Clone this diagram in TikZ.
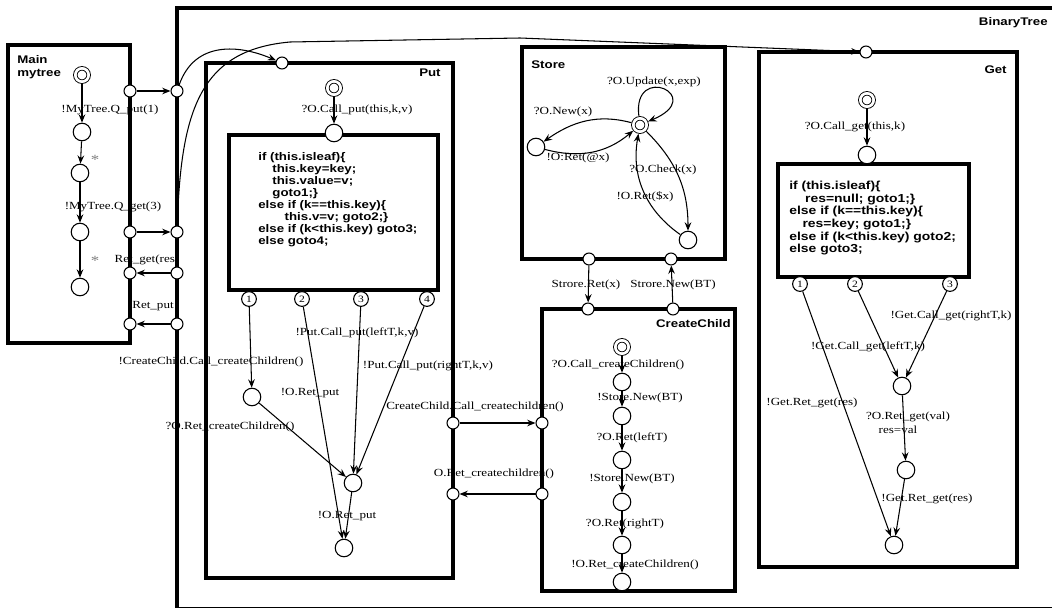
\documentclass[tikz,border=0pt]{standalone}
\usepackage{fontspec}
\setmainfont{Liberation Serif}[FakeStretch=1.2]
\setsansfont{Liberation Sans}[FakeStretch=1.2]
\usetikzlibrary{arrows.meta}

\begin{document}
\begin{tikzpicture}[
    x=0.02cm, y=-0.02cm,
    frame/.style={draw, line width=1.9pt},
    state/.style={circle, draw, line width=0.6pt, fill=white, minimum size=10pt, inner sep=0pt},
    init/.style={circle, draw, line width=0.5pt, double, double distance=1.5pt, minimum size=7.6pt, inner sep=0pt, outer sep=1.25pt},
    port/.style={circle, draw, line width=0.6pt, fill=white, minimum size=6.8pt, inner sep=0pt},
    branch/.style={port, minimum size=8.4pt, font=\fontsize{5.5}{6}\selectfont},
    trans/.style={-{Stealth[length=4.8pt, width=3.8pt, inset=1.7pt]}, line width=0.6pt},
    lab/.style={inner sep=0pt, font=\fontsize{6.2}{7}\selectfont},
    title/.style={inner sep=0pt, font=\fontsize{6.3}{7.4}\selectfont\sffamily\bfseries},
    code/.style={inner sep=0pt, align=left, anchor=north west, font=\fontsize{6.3}{5.1}\selectfont\sffamily\bfseries},
]
\useasboundingbox (0,0) rectangle (1052,608);

% boxes
\draw[frame] (177,8) rectangle (1080,608.5);
\draw[frame] (8,45) rectangle (130,343);
\draw[frame] (206,63) rectangle (453,578);
\draw[frame] (229,135) rectangle (438,290);
\draw[frame] (522,47) rectangle (725,259);
\draw[frame] (542,309) rectangle (735,591);
\draw[frame] (759,52) rectangle (1017,567);
\draw[frame] (778,164) rectangle (969,277);

\node[title, anchor=east] (tbt) at (1048,23) {BinaryTree};
\node[title, anchor=north west, align=left] (tmain) at (17,55) {Main\\mytree};
\node[title, anchor=east] (tput) at (441,73) {Put};
\node[title, anchor=west] (tstore) at (531,65) {Store};
\node[title, anchor=east] (tcc) at (731,324) {CreateChild};
\node[title, anchor=east] (tget) at (1007,70) {Get};

% Main
\node[init] (m0) at (82,75) {};
\node[state] (m1) at (82,132) {};
\node[state] (m2) at (80,173) {};
\node[state] (m3) at (80,232) {};
\node[state] (m4) at (80,287) {};
\foreach \a/\b in {m0/m1, m1/m2, m2/m3, m3/m4}
  \draw[trans] (\a) -- (\b);
\node[lab] (lq1) at (110,110) {!MyTree.Q\_put(1)};
\node[lab, gray, font=\fontsize{8}{8}\selectfont] (ls1) at (95,160) {*};
\node[lab] (lq2) at (113,207) {!MyTree.Q\_get(3)};
\node[lab, gray, font=\fontsize{8}{8}\selectfont] (ls2) at (95,261) {*};

\foreach \i/\y in {1/91, 2/232, 3/273, 4/324} {
  \node[port] (mp\i) at (130,\y) {};
  \node[port] (bp\i) at (177,\y) {};
}
\draw[trans] (mp1) -- (bp1);
\draw[trans] (mp2) -- (bp2);
\draw[trans] (bp3) -- (mp3);
\draw[trans] (bp4) -- (mp4);
\node[lab] (lrg) at (147,260) {Ret\_get(res)};
\node[lab] (lrp) at (153,306) {Ret\_put};

% Put
\node[port] (pt) at (282,63) {};
\node[init] (pi) at (334,88) {};
\node[state] (pc) at (334,133) {};
\draw[trans] (pi) -- (pc);
\node[lab] (lpi) at (357,110) {?O.Call\_put(this,k,v)};
\node[code] (pcode) at (258,152) {if (this.isleaf)\{\\
\hspace*{8pt}this.key=key;\\
\hspace*{8pt}this.value=v;\\
\hspace*{8pt}goto1;\}\\
else if (k==this.key)\{\\
\hspace*{15pt}this.v=v; goto2;\}\\
else if (k<this.key) goto3;\\
else goto4;};
\foreach \i/\x in {1/249, 2/302, 3/361, 4/427}
  \node[branch] (pn\i) at (\x,299) {\i};
\node[state] (pa) at (252,397) {};
\node[state] (pb) at (353,483) {};
\node[state] (pf) at (344,548) {};
\draw[trans] (pn1) -- (pa);
\draw[trans] (pa) -- (pb);
\draw[trans] (pn2) -- (pf);
\draw[trans] (pn3) -- (pb);
\draw[trans] (pn4) -- (pb);
\draw[trans] (pb) -- (pf);
\node[lab] (lp1) at (211,362) {!CreateChild.Call\_createChildren()};
\node[lab] (lp2) at (230,427) {?O.Ret\_createChildren()};
\node[lab] (lp3) at (310,393) {!O.Ret\_put};
\node[lab] (lp4) at (357,333) {!Put.Call\_put(leftT,k,v)};
\node[lab] (lp5) at (428,366) {!Put.Call\_put(rightT,k,v)};
\node[lab] (lp6) at (347,516) {!O.Ret\_put};

\draw[trans] (bp1) .. controls (195,40) and (240,45) .. (pt);

% Put <-> CreateChild
\node[port] (pr1) at (453,423) {};
\node[port] (pr2) at (453,494) {};
\node[port] (cl1) at (542,423) {};
\node[port] (cl2) at (542,494) {};
\draw[trans] (pr1) -- (cl1);
\draw[trans] (cl2) -- (pr2);
\node[lab] (lcc1) at (475,407) {CreateChild.Call\_createchildren()};
\node[lab] (lcc2) at (494,474) {O.Ret\_createchildren()};

% Store
\node[port] (sb1) at (589,259) {};
\node[port] (sb2) at (671,259) {};
\node[port] (ct1) at (588,309) {};
\node[port] (ct2) at (673,309) {};
\draw[trans] (sb1) -- (ct1);
\draw[trans] (ct2) -- (sb2);
\node[lab] (lsr) at (586,285) {Strore.Ret(x)};
\node[lab] (lsn) at (673,285) {Strore.New(BT)};

\node[init] (si) at (640,125) {};
\node[state] (sl) at (536,147) {};
\node[state] (sr) at (688,240) {};
\draw[trans] (si) to[out=165,in=35] (sl);
\draw[trans] (sl) to[out=-15,in=220] (si);
\draw[trans] (si) .. controls (632,62) and (708,96) .. (si);
\draw[trans] (si) to[out=-45,in=90] (sr);
\draw[trans] (sr) to[out=145,in=-100] (si);
\node[lab] (ls1) at (563,112) {?O.New(x)};
\node[lab] (ls2) at (578,158) {!O:Ret(@x)};
\node[lab] (ls3) at (654,82) {?O.Update(x,exp)};
\node[lab] (ls4) at (663,170) {?O.Check(x)};
\node[lab] (ls5) at (645,197) {!O.Ret(\$x)};

% CreateChild
\node[init] (c0) at (622,347) {};
\foreach \i/\y in {1/382, 2/416, 3/460, 4/502, 5/545, 6/582}
  \node[state] (c\i) at (622,\y) {};
\foreach \i/\j in {0/1, 1/2, 2/3, 3/4, 4/5, 5/6}
  \draw[trans] (c\i) -- (c\j);
\foreach \i/\x/\y/\t in {1/618/365/{?O.Call\_createChildren()}, 2/640/398/{!Store.New(BT)},
    3/632/438/{?O.Ret(leftT)}, 4/632/479/{!Store.New(BT)},
    5/625/524/{?O.Ret(rightT)}, 6/635/565/{!O.Ret\_createChildren()}}
  \node[lab] (lc\i) at (\x,\y) {\t};

% Get
\node[port] (gt) at (866,52) {};
\draw[trans] (bp2) .. controls (181,110) and (200,50) .. (290,42) -- (520,38) -- (gt);
\node[init] (gi) at (867,100) {};
\node[state] (gc) at (867,155) {};
\draw[trans] (gi) -- (gc);
\node[lab] (lgi) at (855,127) {?O.Call\_get(this,k)};
\node[code, font=\fontsize{6.6}{5.4}\selectfont\sffamily\bfseries] (gcode) at (789,181) {if (this.isleaf)\{\\
\hspace*{9pt}res=null; goto1;\}\\
else if (k==this.key)\{\\
\hspace*{7.5pt}res=key; goto1;\}\\
else if (k<this.key) goto2;\\
else goto3;};
\foreach \i/\x in {1/800, 2/855, 3/950}
  \node[branch] (gn\i) at (\x,284) {\i};
\node[state] (gd) at (902,386) {};
\node[state] (ge) at (906,470) {};
\node[state] (gf) at (894,545) {};
\draw[trans] (gn1) -- (gf);
\draw[trans] (gn2) -- (gd);
\draw[trans] (gn3) -- (gd);
\draw[trans] (gd) -- (ge);
\draw[trans] (ge) -- (gf);
\node[lab] (lg1) at (812,403) {!Get.Ret\_get(res)};
\node[lab] (lg2) at (868,347) {!Get.Call\_get(leftT,k)};
\node[lab] (lg3) at (951,316) {!Get.Call\_get(rightT,k)};
\node[lab] (lg4) at (908,417) {?O.Ret\_get(val)};
\node[lab] (lg5) at (898,430) {res=val};
\node[lab] (lg6) at (927,499) {!Get.Ret\_get(res)};
\end{tikzpicture}
\end{document}
